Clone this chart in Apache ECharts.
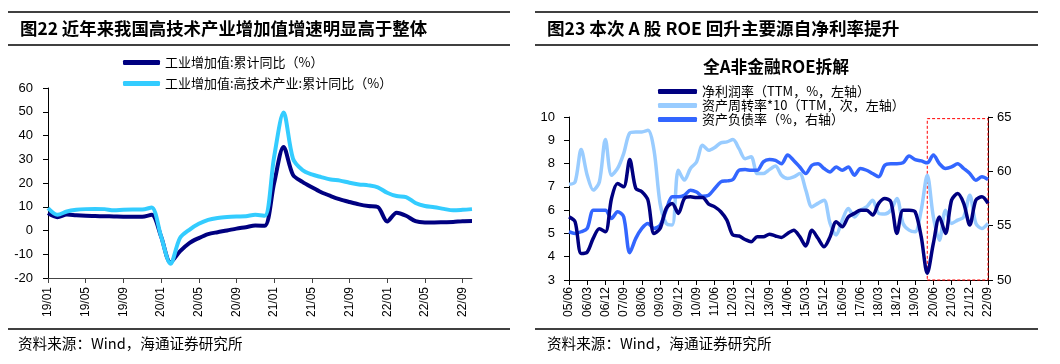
<!DOCTYPE html>
<html>
<head>
<meta charset="utf-8">
<script src="https://cdn.jsdelivr.net/npm/echarts@6/dist/echarts.min.js"></script>
<style>
html,body{margin:0;padding:0;background:#fff;}
#c{width:1060px;height:364px;}
</style>
</head>
<body>
<div id="c"></div>
<script>
// ---------- Left chart data (monthly, 19/01 - 22/10) ----------
const leftCategories = ['19/01','19/02','19/03','19/04','19/05','19/06','19/07','19/08','19/09','19/10','19/11','19/12',
  '20/01','20/02','20/03','20/04','20/05','20/06','20/07','20/08','20/09','20/10','20/11','20/12',
  '21/01','21/02','21/03','21/04','21/05','21/06','21/07','21/08','21/09','21/10','21/11','21/12',
  '22/01','22/02','22/03','22/04','22/05','22/06','22/07','22/08','22/09','22/10'];
const industryTotal = [7.3,5.6,6.7,6.4,6.2,6.1,6.0,5.9,5.8,5.8,5.8,6.6,
  -2.5,-13.4,-8.8,-5.3,-3.2,-1.5,-0.7,0.0,0.8,1.4,2.1,2.0,
  20.0,35.2,23.4,20.5,18.2,16.1,14.5,13.1,12.0,11.0,10.3,9.9,
  3.8,7.5,6.2,3.9,3.4,3.4,3.5,3.6,3.9,4.0];
const industryHighTech = [9.4,6.6,8.0,8.7,9.0,9.1,9.0,8.5,8.7,8.8,8.8,9.7,
  -2.5,-14.0,-3.2,0.3,2.8,4.5,5.3,5.7,5.9,6.0,6.6,6.2,
  31.0,49.7,30.3,25.5,23.6,22.5,21.5,21.0,20.1,19.4,19.0,18.2,
  15.9,14.5,14.1,11.6,10.3,9.8,9.1,8.5,8.7,9.0];
const leftSeriesNames = ['工业增加值:累计同比（%）','工业增加值:高技术产业:累计同比（%）'];

// ---------- Right chart data (quarterly, 05/06 - 22/09) ----------
const rightCategories = ['05/06','05/09','05/12',
  '06/03','06/06','06/09','06/12','07/03','07/06','07/09','07/12','08/03','08/06','08/09','08/12',
  '09/03','09/06','09/09','09/12','10/03','10/06','10/09','10/12','11/03','11/06','11/09','11/12',
  '12/03','12/06','12/09','12/12','13/03','13/06','13/09','13/12','14/03','14/06','14/09','14/12',
  '15/03','15/06','15/09','15/12','16/03','16/06','16/09','16/12','17/03','17/06','17/09','17/12',
  '18/03','18/06','18/09','18/12','19/03','19/06','19/09','19/12','20/03','20/06','20/09','20/12',
  '21/03','21/06','21/09','21/12','22/03','22/06','22/09'];
const netMargin = [5.71,5.5,4.14,4.2,4.8,5.2,5.07,6.5,7.14,7.0,8.17,6.93,6.79,6.43,5.0,5.21,6.07,6.29,5.86,6.5,6.57,6.54,6.54,6.26,6.14,5.93,5.57,4.93,4.89,4.74,4.64,4.86,4.86,4.97,
  4.89,4.83,5.0,5.14,4.86,4.46,5.14,4.79,4.43,4.86,5.5,5.29,5.71,5.86,6.0,6.0,5.79,6.29,6.5,6.36,5.0,6.0,6.0,5.93,4.86,3.29,4.57,5.71,5.0,6.43,6.71,6.29,5.36,6.43,6.57,6.29];
const assetTurnover10 = [7.11,7.21,8.6,7.5,6.86,7.21,9.03,7.5,7.79,8.43,9.31,9.36,9.36,9.43,8.57,6.29,5.43,5.36,7.71,7.29,7.79,8.07,8.79,8.57,8.69,8.89,8.93,9.03,8.64,8.21,8.29,7.57,7.57,7.74,
  7.9,7.5,7.36,7.43,7.57,6.86,6.14,6.29,6.43,5.43,4.93,5.57,6.07,5.71,6.0,6.14,6.43,5.86,5.83,6.0,6.5,5.43,5.14,5.07,6.0,7.5,5.71,4.71,6.0,5.43,5.57,5.71,6.64,5.43,5.21,5.43];
const debtRatio = [54.44,54.29,54.44,54.75,56.43,56.43,56.43,55.66,56.28,55.82,52.5,53.83,54.75,55.2,54.75,55.05,56.43,57.65,57.65,57.8,58.27,58.1,57.7,57.8,58.42,59.03,59.12,59.25,60.1,60.16,60.1,60.1,60.87,61.08,
  61.0,60.7,61.5,61.0,60.4,59.8,60.56,60.7,60.26,59.95,60.4,60.1,60.4,59.64,60.26,60.1,59.8,59.5,60.56,60.7,60.7,60.78,61.4,61.08,60.96,60.78,61.5,60.7,60.26,60.4,60.7,60.26,59.8,59.18,59.5,59.25];
const rightSeriesNames = ['净利润率（TTM，%，左轴）','资产周转率*10（TTM，次，左轴）','资产负债率（%，右轴）'];
const highlightRange = ['20/03','22/09'];

const FONT = '"Liberation Sans", "Noto Sans CJK SC", sans-serif';
const CJK = '"Noto Sans CJK SC", "Liberation Sans", sans-serif';

const chart = echarts.init(document.getElementById('c'), null, {renderer:'canvas'});

function hline(x1,x2,y,w){
  return {type:'line', shape:{x1:x1,y1:y,x2:x2,y2:y}, style:{stroke:'#000', lineWidth:w}, silent:true};
}
function txt(x,y,t,size,weight,align){
  return {type:'text', x:x, y:y, style:{text:t, font:(weight||'normal')+' '+size+'px '+CJK, fill:'#000', textAlign:align||'left', textVerticalAlign:'middle'}, silent:true};
}

const option = {
  animation:false,
  backgroundColor:'#fff',
  graphic:[
    hline(8,510,12,1.5), hline(8,510,45,1.5), hline(8,510,329,1.5),
    hline(535,1038,12,1.5), hline(535,1038,45,1.5), hline(535,1038,329,1.5),
    txt(20,28,'图22 近年来我国高技术产业增加值增速明显高于整体',17.4,'bold'),
    txt(547,28,'图23 本次 A 股 ROE 回升主要源自净利率提升',17.6,'bold'),
    txt(776,67,'全A非金融ROE拆解',16.8,'bold','center'),
    txt(18,343,'资料来源：Wind，海通证券研究所',14.6),
    txt(547,343,'资料来源：Wind，海通证券研究所',14.6)
  ],
  legend:[
    {data:leftSeriesNames, orient:'vertical', left:123, top:56, padding:0, itemWidth:37, itemHeight:5, itemGap:8, icon:'roundRect',
     textStyle:{fontFamily:CJK, fontSize:13, color:'#000'}},
    {data:rightSeriesNames, orient:'vertical', left:658, top:85, padding:0, itemWidth:39, itemHeight:5, itemGap:1, icon:'roundRect',
     textStyle:{fontFamily:CJK, fontSize:13, color:'#000'}}
  ],
  grid:[
    {left:48, top:88, width:424, height:190},
    {left:569, top:117, width:419, height:163}
  ],
  xAxis:[
    {type:'category', gridIndex:0, data:leftCategories, boundaryGap:false, position:'bottom',
     axisLine:{show:false}, axisTick:{show:false},
     axisLabel:{interval:3, rotate:90, margin:9, fontFamily:FONT, fontSize:12, color:'#000'}},
    {type:'category', gridIndex:0, data:leftCategories, boundaryGap:false, position:'bottom',
     axisLine:{show:true, onZero:true, lineStyle:{color:'#444', width:1}},
     axisTick:{show:true, interval:3, length:5, lineStyle:{color:'#444'}},
     axisLabel:{show:false}},
    {type:'category', gridIndex:1, data:rightCategories, boundaryGap:false, position:'bottom',
     axisLine:{show:true, onZero:false, lineStyle:{color:'#000', width:1}},
     axisTick:{show:true, interval:2, length:5, lineStyle:{color:'#000'}},
     axisLabel:{interval:2, rotate:90, margin:7, fontFamily:FONT, fontSize:12, color:'#000'}}
  ],
  yAxis:[
    {type:'value', gridIndex:0, min:-20, max:60, interval:10, splitLine:{show:false},
     axisLine:{show:true, lineStyle:{color:'#000'}}, axisTick:{show:true, length:5, lineStyle:{color:'#000'}},
     axisLabel:{margin:15, fontFamily:FONT, fontSize:13, color:'#000'}},
    {type:'value', gridIndex:1, min:3, max:10, interval:1, splitLine:{show:false},
     axisLine:{show:true, lineStyle:{color:'#000'}}, axisTick:{show:true, length:5, lineStyle:{color:'#000'}},
     axisLabel:{margin:14, fontFamily:FONT, fontSize:13, color:'#000'}},
    {type:'value', gridIndex:1, position:'right', min:50, max:65, interval:5, splitLine:{show:false},
     axisLine:{show:true, lineStyle:{color:'#000'}}, axisTick:{show:true, length:5, lineStyle:{color:'#000'}},
     axisLabel:{margin:9, fontFamily:FONT, fontSize:13, color:'#000'}}
  ],
  series:[
    {name:leftSeriesNames[0], type:'line', xAxisIndex:0, yAxisIndex:0, data:industryTotal, smooth:0.3, showSymbol:false,
     lineStyle:{color:'#000080', width:4}, itemStyle:{color:'#000080'}},
    {name:leftSeriesNames[1], type:'line', xAxisIndex:0, yAxisIndex:0, data:industryHighTech, smooth:0.3, showSymbol:false,
     lineStyle:{color:'#33CCFF', width:4}, itemStyle:{color:'#33CCFF'}},
    {name:rightSeriesNames[0], type:'line', xAxisIndex:2, yAxisIndex:1, data:netMargin, smooth:0.3, showSymbol:false,
     lineStyle:{color:'#000080', width:3.5}, itemStyle:{color:'#000080'}, z:4,
     markArea:{silent:true, itemStyle:{color:'rgba(0,0,0,0)', borderColor:'#FF0000', borderWidth:1, borderType:[3,2]},
       data:[[{xAxis:highlightRange[0], yAxis:3},{xAxis:highlightRange[1], yAxis:9.93}]]}},
    {name:rightSeriesNames[1], type:'line', xAxisIndex:2, yAxisIndex:1, data:assetTurnover10, smooth:0.3, showSymbol:false,
     lineStyle:{color:'#99CCFF', width:3.5}, itemStyle:{color:'#99CCFF'}, z:3},
    {name:rightSeriesNames[2], type:'line', xAxisIndex:2, yAxisIndex:2, data:debtRatio, smooth:0.3, showSymbol:false,
     lineStyle:{color:'#3366FF', width:3.5}, itemStyle:{color:'#3366FF'}, z:3}
  ]
};
chart.setOption(option);
</script>
</body>
</html>
